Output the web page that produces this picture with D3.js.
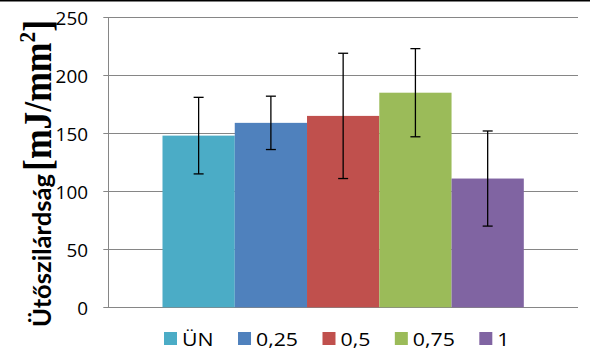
<!DOCTYPE html>
<html><head><meta charset="utf-8">
<script src="https://cdn.jsdelivr.net/npm/d3@7"></script>
<style>html,body{margin:0;padding:0;background:#fff;}svg{display:block;}</style>
</head><body>
<svg id="c" width="590" height="355"></svg>
<script>
const categories = ["ÜN", "0,25", "0,5", "0,75", "1"];
const values = [148, 159, 165, 185, 111];
const errors = [33, 23, 54, 38, 41];
const colors = ["#4BACC6", "#4F81BD", "#C0504D", "#9BBB59", "#8064A2"];
const yTicks = [0, 50, 100, 150, 200, 250];
const titleMain = "Ütőszilárdság";
const titleUnit = ["[mJ/mm", "2", "]"];

const svg = d3.select("#c");
const plot = {left: 108.3, right: 578, top: 17.3, bottom: 307.3};

// top border line
svg.append("rect").attr("x", 0).attr("y", 0).attr("width", 590).attr("height", 1.5).attr("fill", "#000");

const y = d3.scaleLinear().domain([0, 250]).range([plot.bottom, plot.top]);
const x = d3.scaleBand().domain(categories).range([plot.left, plot.right]).paddingInner(0).paddingOuter(0.75);

// gridlines + ticks
svg.append("g").selectAll("line").data(yTicks).join("line")
  .attr("x1", plot.left - 5).attr("x2", plot.right)
  .attr("y1", d => Math.round(y(d)) + 0.5).attr("y2", d => Math.round(y(d)) + 0.5)
  .attr("stroke", "#868686").attr("stroke-width", 1);
svg.append("line").attr("x1", Math.round(plot.left) + 0.5).attr("x2", Math.round(plot.left) + 0.5)
  .attr("y1", Math.round(plot.top) + 0.5).attr("y2", Math.round(plot.bottom) + 0.5)
  .attr("stroke", "#868686").attr("stroke-width", 1);

// tick labels
svg.append("g").selectAll("text").data(yTicks).join("text")
  .attr("transform", d => `translate(88,${y(d) + 8}) scale(1.05,1)`)
  .attr("text-anchor", "end")
  .attr("font-family", "'Open Sans', sans-serif").attr("font-size", 18)
  .attr("fill", "#000")
  .text(d => d);

// bars
svg.append("g").selectAll("rect").data(categories).join("rect")
  .attr("x", d => x(d)).attr("width", x.bandwidth())
  .attr("y", (d, i) => y(values[i])).attr("height", (d, i) => y(0) - y(values[i]))
  .attr("fill", (d, i) => colors[i]);

// error bars
const eg = svg.append("g").attr("stroke", "#000").attr("stroke-width", 1.3);
categories.forEach((c, i) => {
  const cx = x(c) + x.bandwidth() / 2;
  const hi = y(values[i] + errors[i]), lo = y(values[i] - errors[i]);
  eg.append("line").attr("x1", cx).attr("x2", cx).attr("y1", hi).attr("y2", lo);
  eg.append("line").attr("x1", cx - 5).attr("x2", cx + 5).attr("y1", hi).attr("y2", hi);
  eg.append("line").attr("x1", cx - 5).attr("x2", cx + 5).attr("y1", lo).attr("y2", lo);
});

// y axis title (two parts, as in reference: sans bold + serif bold unit)
const famA = "Lato, 'Open Sans', sans-serif", famB = "'Liberation Serif', serif";
const tA = svg.append("text").attr("font-family", famA).attr("font-weight", "bold")
  .attr("font-size", 25).attr("fill", "#000").attr("text-anchor", "start").text(titleMain);
const lenA = tA.node().getComputedTextLength();
tA.attr("transform", `translate(50.5,327) rotate(-90) scale(${153 / lenA},1)`);

const bSize = 40;
const tB = svg.append("text").attr("font-family", famB).attr("font-weight", "bold")
  .attr("font-size", bSize).attr("fill", "#000").attr("text-anchor", "end");
tB.append("tspan").text(titleUnit[0]);
tB.append("tspan").attr("font-size", bSize * 0.6).attr("dy", -bSize * 0.4).text(titleUnit[1]);
tB.append("tspan").attr("dy", bSize * 0.4).text(titleUnit[2]);
const lenB = tB.node().getComputedTextLength();
tB.attr("transform", `translate(51,20) rotate(-90) scale(${151 / lenB},1)`);

// legend
const lg = svg.append("g");
let lx = 164;
const stretch = 1.12;
categories.forEach((c, i) => {
  lg.append("rect").attr("x", lx).attr("y", 332).attr("width", 13).attr("height", 13).attr("fill", colors[i]);
  const t = lg.append("text").attr("transform", `translate(${lx + 18},346) scale(${stretch},1)`)
    .attr("font-family", "'Open Sans', sans-serif").attr("font-size", 19).attr("fill", "#000").text(c);
  lx = lx + 18 + t.node().getComputedTextLength() * stretch + 24.5;
});
</script>
</body></html>
